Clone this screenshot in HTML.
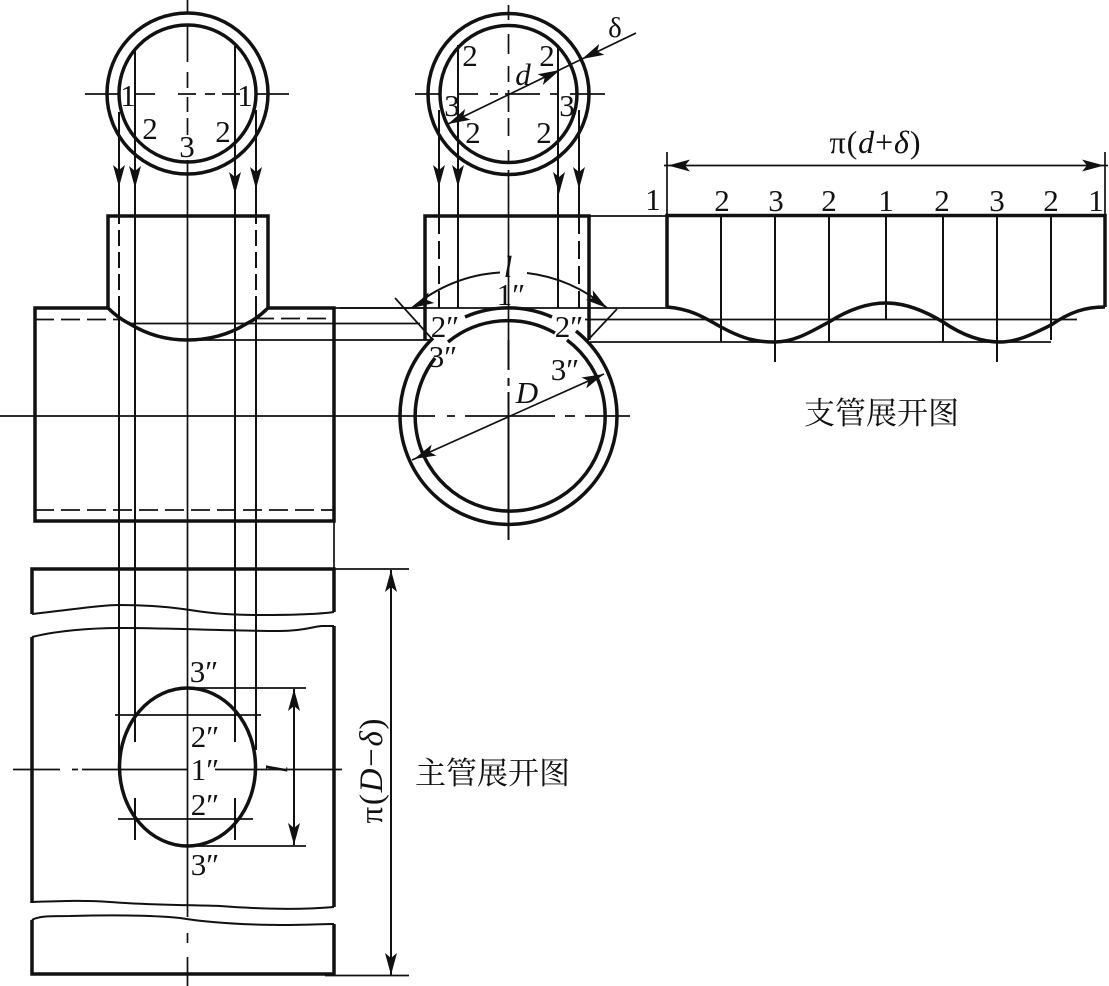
<!DOCTYPE html>
<html><head><meta charset="utf-8">
<style>
html,body{margin:0;padding:0;background:#fff}
svg{display:block}
text{font-family:"Liberation Serif","Noto Serif CJK SC",serif;fill:#111;font-size:31px;text-anchor:middle}
.cn{font-size:31px;text-anchor:start}
.i{font-style:italic}
.t{stroke:#111;stroke-width:1.7;fill:none}
.m{stroke:#111;stroke-width:2;fill:none}
.b{stroke:#111;stroke-width:3.5;fill:none}
</style></head>
<body>
<svg width="1109" height="986" viewBox="0 0 1109 986" xmlns="http://www.w3.org/2000/svg">
<defs>
<polygon id="a" points="0,0 -22,-6 -17,0 -22,6" fill="#111"/>
</defs>
<rect width="1109" height="986" fill="#fff"/>

<!-- LEFT TOP CIRCLES -->
<circle class="b" cx="187.5" cy="93.5" r="80.5"/>
<circle class="b" cx="187.5" cy="93.5" r="68.5"/>
<path class="t" d="M85 94H120M135 94H155M178 94H196M205 94H215M222 94H240M256 94H289"/>
<path class="t" d="M187.5 0V12M187.5 25V62M187.5 72V88M187.5 97V112M187.5 118V135M187.5 160V917M187.5 933V943M187.5 957V986"/>
<path class="m" d="M119 112V770M135 50V742M135 798V840M235 46V742M235 798V840M256 110V750"/>
<use href="#a" transform="translate(119,187) rotate(90)"/>
<use href="#a" transform="translate(135,188) rotate(90)"/>
<use href="#a" transform="translate(235,194) rotate(90)"/>
<use href="#a" transform="translate(256,189) rotate(90)"/>
<text x="128" y="106">1</text><text x="245" y="106">1</text>
<text x="150" y="139">2</text><text x="223" y="142">2</text><text x="187" y="157">3</text>

<!-- LEFT BRANCH + MAIN -->
<path class="b" d="M108 308V216H268V308"/>
<path stroke="#fff" stroke-width="4" d="M119 218V306M256 218V306" stroke-dasharray="6 16" stroke-dashoffset="-6"/>
<path class="b" d="M108 308L35 308V521H334V308H268"/>
<path class="b" d="M108 308Q118 318 130 324Q156 340 187 340Q220 340 246 324Q258 318 268 308"/>
<path class="t" stroke-dasharray="19 7" d="M35 319.5H120M255 318.5H334M35 510H334"/>
<path class="t" d="M130 323.5H420M187 340H433M334 308H425"/>

<!-- MIDDLE TOP CIRCLES -->
<circle class="b" cx="508.5" cy="94" r="80.5"/>
<circle class="b" cx="508.5" cy="94" r="68.5"/>
<path class="t" d="M415 94H439M458 94H478M490 94H498M505 94H540M550 94H558M570 94H605"/>
<path class="t" d="M508.5 5V20M508.5 34V54M508.5 66V82M508.5 90V112M508.5 118V136M508.5 150V162M508.5 170V340"/>
<path class="m" d="M439 110V216M458 45V308M558 45V308M579 110V216"/>
<path class="m" stroke-dasharray="18 7" d="M439 216V308M579 216V308"/>
<use href="#a" transform="translate(439,187) rotate(90)"/>
<use href="#a" transform="translate(458,187) rotate(90)"/>
<use href="#a" transform="translate(559,194) rotate(90)"/>
<use href="#a" transform="translate(579,189) rotate(90)"/>
<path class="t" d="M448 124L582 59L636 33"/>
<use href="#a" transform="translate(448,124) rotate(154)"/>
<use href="#a" transform="translate(560,70) rotate(-26)"/>
<use href="#a" transform="translate(582,59) rotate(154)"/>
<text x="470" y="66">2</text><text x="547" y="66">2</text>
<text class="i" x="523" y="85">d</text>
<text x="452" y="116">3</text><text x="567" y="116">3</text>
<text x="473" y="143">2</text><text x="544" y="143">2</text>
<text x="615" y="37" style="font-size:29px">δ</text>
<text x="653" y="210">1</text>

<!-- MIDDLE BRANCH -->
<path class="b" d="M425 340V216H589V340"/>
<path class="t" d="M589 216H667"/>
<path class="t" d="M340 308H668M585 319.5H1077M590 342H1051"/>
<path class="t" d="M395 298L433 340M617 309L587 341"/>
<path class="m" d="M412 308A149 149 0 0 1 500 272.5M527 273A149 149 0 0 1 607 308"/>
<use href="#a" transform="translate(412,308) rotate(152)"/>
<use href="#a" transform="translate(607,308) rotate(36)"/>
<text class="i" x="508" y="277">l</text>
<text x="511" y="305">1″</text>
<text x="445" y="337">2″</text><text x="569" y="337">2″</text>
<text x="443" y="367">3″</text><text x="565" y="380">3″</text>

<!-- BIG CIRCLE -->
<path class="b" d="M465 317A108.5 108.5 0 0 1 552 317"/>
<path class="b" d="M433 338A108.5 108.5 0 1 0 576 331"/>
<path class="b" d="M448 342A95 95 0 0 1 555 333"/>
<path class="b" d="M435 358A95 95 0 1 0 567 340"/>
<path class="t" d="M0 416H435M447 416H455M465 416H555M565 416H575M585 416H630"/>
<path class="m" d="M508.5 340V370M508.5 378V386M508.5 392V540"/>
<path class="t" d="M412 460L604 374"/>
<use href="#a" transform="translate(604,374) rotate(-24)"/>
<use href="#a" transform="translate(414,459) rotate(156)"/>
<text class="i" x="527" y="403">D</text>

<!-- BRANCH DEVELOPMENT -->
<path class="b" d="M667 307V215.5H1105V307"/>
<path class="t" d="M667 152V216M1105 152V216M664 165.5H1108"/>
<use href="#a" transform="translate(668,165.5) rotate(180)"/>
<use href="#a" transform="translate(1104,165.5)"/>
<text x="875" y="153" textLength="91" style="font-size:32px">π(<tspan class="i">d</tspan>+<tspan class="i">δ</tspan>)</text>
<path class="m" d="M721 216V342M775 216V362M829 216V342M886 216V319M943 216V342M997 216V362M1051 216V340"/>
<path class="b" d="M667 307C690 309 702 316 721 327C745 340 758 342 775 342C795 342 812 331 829 322C848 310 868 303 886 303C905 303 925 311 943 322C962 335 982 342 1000 342C1018 342 1035 333 1051 325C1070 312 1085 307 1105 307"/>
<text x="722" y="211">2</text><text x="776" y="211">3</text><text x="829" y="211">2</text>
<text x="886" y="211">1</text><text x="942" y="211">2</text><text x="997" y="211">3</text>
<text x="1051" y="211">2</text><text x="1096" y="211">1</text>
<text class="cn" x="804" y="424">支管展开图</text>

<!-- BOTTOM DEVELOPMENT -->
<path class="t" d="M334 521V569"/>
<path class="b" d="M32 614V569H334V612"/>
<path class="m" d="M32 614C70 610 100 605 118 605C140 605 165 606 190 610C215 614 235 615 260 615C290 615 320 614 334 612"/>
<path class="m" d="M32 637C55 631 90 628 120 628C170 628 230 631 280 631C305 631 315 626 322 626L334 626"/>
<path class="b" d="M32 637V903M334 626V907"/>
<path class="m" d="M32 902C60 901 85 900 110 902C150 905 190 905 220 906C260 909 300 910 334 907"/>
<path class="m" d="M32 920C38 916 50 916 70 916C110 915 150 915 180 918C210 923 250 925 290 925C310 925 320 924 334 924"/>
<path class="b" d="M32 920V974H334V924"/>
<path class="t" d="M334 569H409M325 975.5H409"/>
<path class="m" d="M391 570V975"/>
<use href="#a" transform="translate(391,570) rotate(-90)"/>
<use href="#a" transform="translate(391,975) rotate(90)"/>
<text transform="translate(382,771) rotate(-90)" textLength="105" style="font-size:33px">π(<tspan class="i">D</tspan>−<tspan class="i">δ</tspan>)</text>
<text class="cn" x="415" y="784">主管展开图</text>

<!-- ELLIPSE -->
<ellipse class="b" cx="187.5" cy="767" rx="68" ry="79"/>
<path class="t" d="M13 769.5H60M72 769.5H78M82 769.5H187M215 769.5H342"/>
<path class="t" d="M115 715H261M118 819H253M187 688H306M187 846H306"/>
<path class="m" d="M294 689V845"/>
<use href="#a" transform="translate(294,689) rotate(-90)"/>
<use href="#a" transform="translate(294,845) rotate(90)"/>
<text class="i" transform="translate(266,768) rotate(90)">l</text>
<text x="204" y="682">3″</text>
<text x="205" y="747">2″</text>
<text x="205" y="780">1″</text>
<text x="205" y="815">2″</text>
<text x="205" y="875">3″</text>
</svg>
</body></html>
